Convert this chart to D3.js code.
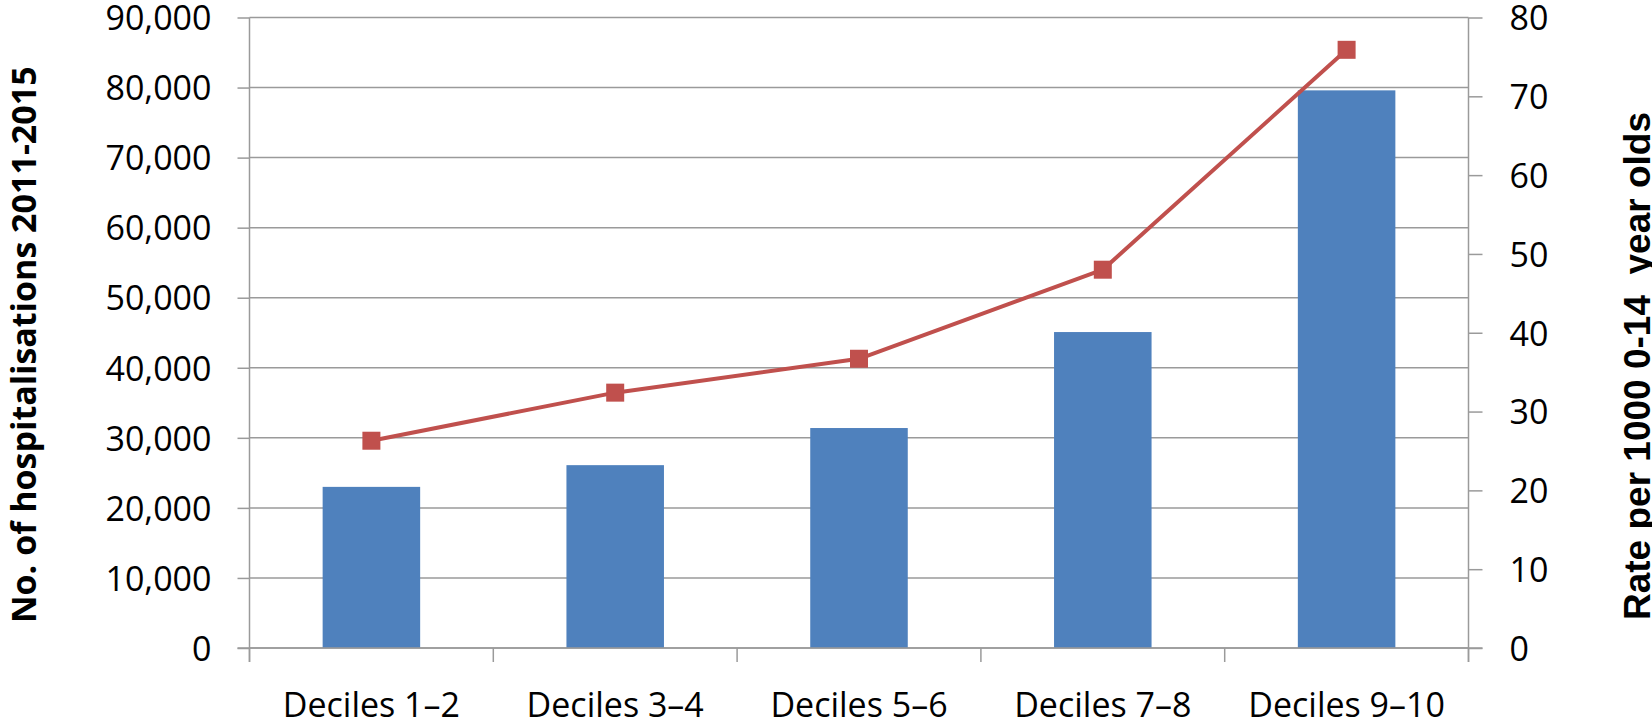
<!DOCTYPE html>
<html>
<head>
<meta charset="utf-8">
<script src="https://cdn.jsdelivr.net/npm/d3@7"></script>
<style>
  html, body { margin: 0; padding: 0; background: #fff; }
  svg { display: block; }
</style>
</head>
<body>
<svg id="chart" width="1652" height="725"></svg>
<script>
// Hospitalisations by socio-economic decile group, 2011-2015
const categories = ["Deciles 1\u20132", "Deciles 3\u20134", "Deciles 5\u20136", "Deciles 7\u20138", "Deciles 9\u201310"];
const hospitalisations = [23000, 26100, 31400, 45100, 79600];
const ratePer1000 = [26.3, 32.4, 36.7, 48.0, 75.9];
const leftTicks = [0, 10000, 20000, 30000, 40000, 50000, 60000, 70000, 80000, 90000];
const rightTicks = [0, 10, 20, 30, 40, 50, 60, 70, 80];
const leftTitle = "No. of hospitalisations 2011-2015";
const rightTitle = "Rate per 1000 0-14\u00a0\u00a0year olds";

const svg = d3.select("#chart");
const plot = { left: 249.5, right: 1468.5, top: 17.5, bottom: 648 };
const tickFont = "'Open Sans', 'Noto Sans', sans-serif";
const gridColor = "#9a9a9a";

const x = d3.scaleBand().domain(categories).range([plot.left, plot.right]).paddingInner(0).paddingOuter(0);
const yLeft = d3.scaleLinear().domain([0, 90000]).range([plot.bottom, plot.top]);
const yRight = d3.scaleLinear().domain([0, 80]).range([plot.bottom, plot.top]);

// horizontal gridlines from the left axis
svg.append("g")
  .selectAll("line")
  .data(leftTicks)
  .join("line")
  .attr("x1", plot.left).attr("x2", plot.right)
  .attr("y1", d => yLeft(d)).attr("y2", d => yLeft(d))
  .attr("stroke", gridColor).attr("stroke-width", 1.5);

// bars: width is 1 / (1 + 1.5 gap) of each category band
const barW = x.bandwidth() / 2.5;
svg.append("g")
  .selectAll("rect")
  .data(hospitalisations)
  .join("rect")
  .attr("x", (d, i) => x(categories[i]) + x.bandwidth() / 2 - barW / 2)
  .attr("y", d => yLeft(d))
  .attr("width", barW)
  .attr("height", d => yLeft(0) - yLeft(d))
  .attr("fill", "#4F81BD");

// left axis
const leftAxis = d3.axisLeft(yLeft).tickValues(leftTicks).tickSize(12).tickPadding(26)
  .tickFormat(d3.format(","));
const gL = svg.append("g").attr("transform", `translate(${plot.left},0)`).call(leftAxis);
gL.select(".domain").remove();
gL.selectAll(".tick line").attr("stroke", gridColor).attr("stroke-width", 1.5);
gL.selectAll(".tick text").attr("font-family", tickFont).attr("font-size", 34).attr("fill", "#000").attr("dy", "0.36em");
gL.append("line").attr("x1", 0).attr("x2", 0).attr("y1", plot.top).attr("y2", plot.bottom + 14)
  .attr("stroke", gridColor).attr("stroke-width", 1.5);

// right axis
const rightAxis = d3.axisRight(yRight).tickValues(rightTicks).tickSize(14).tickPadding(27);
const gR = svg.append("g").attr("transform", `translate(${plot.right},0)`).call(rightAxis);
gR.select(".domain").remove();
gR.selectAll(".tick line").attr("stroke", gridColor).attr("stroke-width", 1.5);
gR.selectAll(".tick text").attr("font-family", tickFont).attr("font-size", 34).attr("fill", "#000").attr("dy", "0.36em");
gR.append("line").attr("x1", 0).attr("x2", 0).attr("y1", plot.top).attr("y2", plot.bottom + 14)
  .attr("stroke", gridColor).attr("stroke-width", 1.5);

// category axis with tick marks between categories
const gX = svg.append("g").attr("transform", `translate(0,${plot.bottom})`);
gX.append("line").attr("x1", plot.left - 12).attr("x2", plot.right + 14).attr("y1", 0).attr("y2", 0)
  .attr("stroke", gridColor).attr("stroke-width", 1.5);
const boundaries = categories.map(c => x(c)).concat([plot.right]);
gX.selectAll("line.sep")
  .data(boundaries)
  .join("line").attr("class", "sep")
  .attr("x1", d => d).attr("x2", d => d).attr("y1", 0).attr("y2", 14)
  .attr("stroke", gridColor).attr("stroke-width", 1.5);
gX.selectAll("text")
  .data(categories)
  .join("text")
  .attr("x", d => x(d) + x.bandwidth() / 2)
  .attr("y", 69)
  .attr("text-anchor", "middle")
  .attr("font-family", tickFont).attr("font-size", 34).attr("fill", "#000")
  .text(d => d);

// rate line with square markers
const line = d3.line()
  .x((d, i) => x(categories[i]) + x.bandwidth() / 2)
  .y(d => yRight(d));
svg.append("path")
  .datum(ratePer1000)
  .attr("d", line)
  .attr("fill", "none")
  .attr("stroke", "#C0504D")
  .attr("stroke-width", 4)
  .attr("stroke-linejoin", "round");
const mk = 18;
svg.append("g")
  .selectAll("rect")
  .data(ratePer1000)
  .join("rect")
  .attr("x", (d, i) => x(categories[i]) + x.bandwidth() / 2 - mk / 2)
  .attr("y", d => yRight(d) - mk / 2)
  .attr("width", mk).attr("height", mk)
  .attr("fill", "#C0504D");

// axis titles
svg.append("text")
  .attr("transform", `translate(36,${(plot.top + plot.bottom) / 2 + 12}) rotate(-90)`)
  .attr("text-anchor", "middle")
  .attr("font-family", tickFont).attr("font-weight", "bold").attr("font-size", 34)
  .attr("fill", "#000")
  .text(leftTitle);
svg.append("text")
  .attr("transform", `translate(1650,366) rotate(-90)`)
  .attr("text-anchor", "middle")
  .attr("font-family", "'Liberation Sans', Arial, sans-serif").attr("font-weight", "bold").attr("font-size", 37)
  .attr("fill", "#000")
  .text(rightTitle);
</script>
</body>
</html>
